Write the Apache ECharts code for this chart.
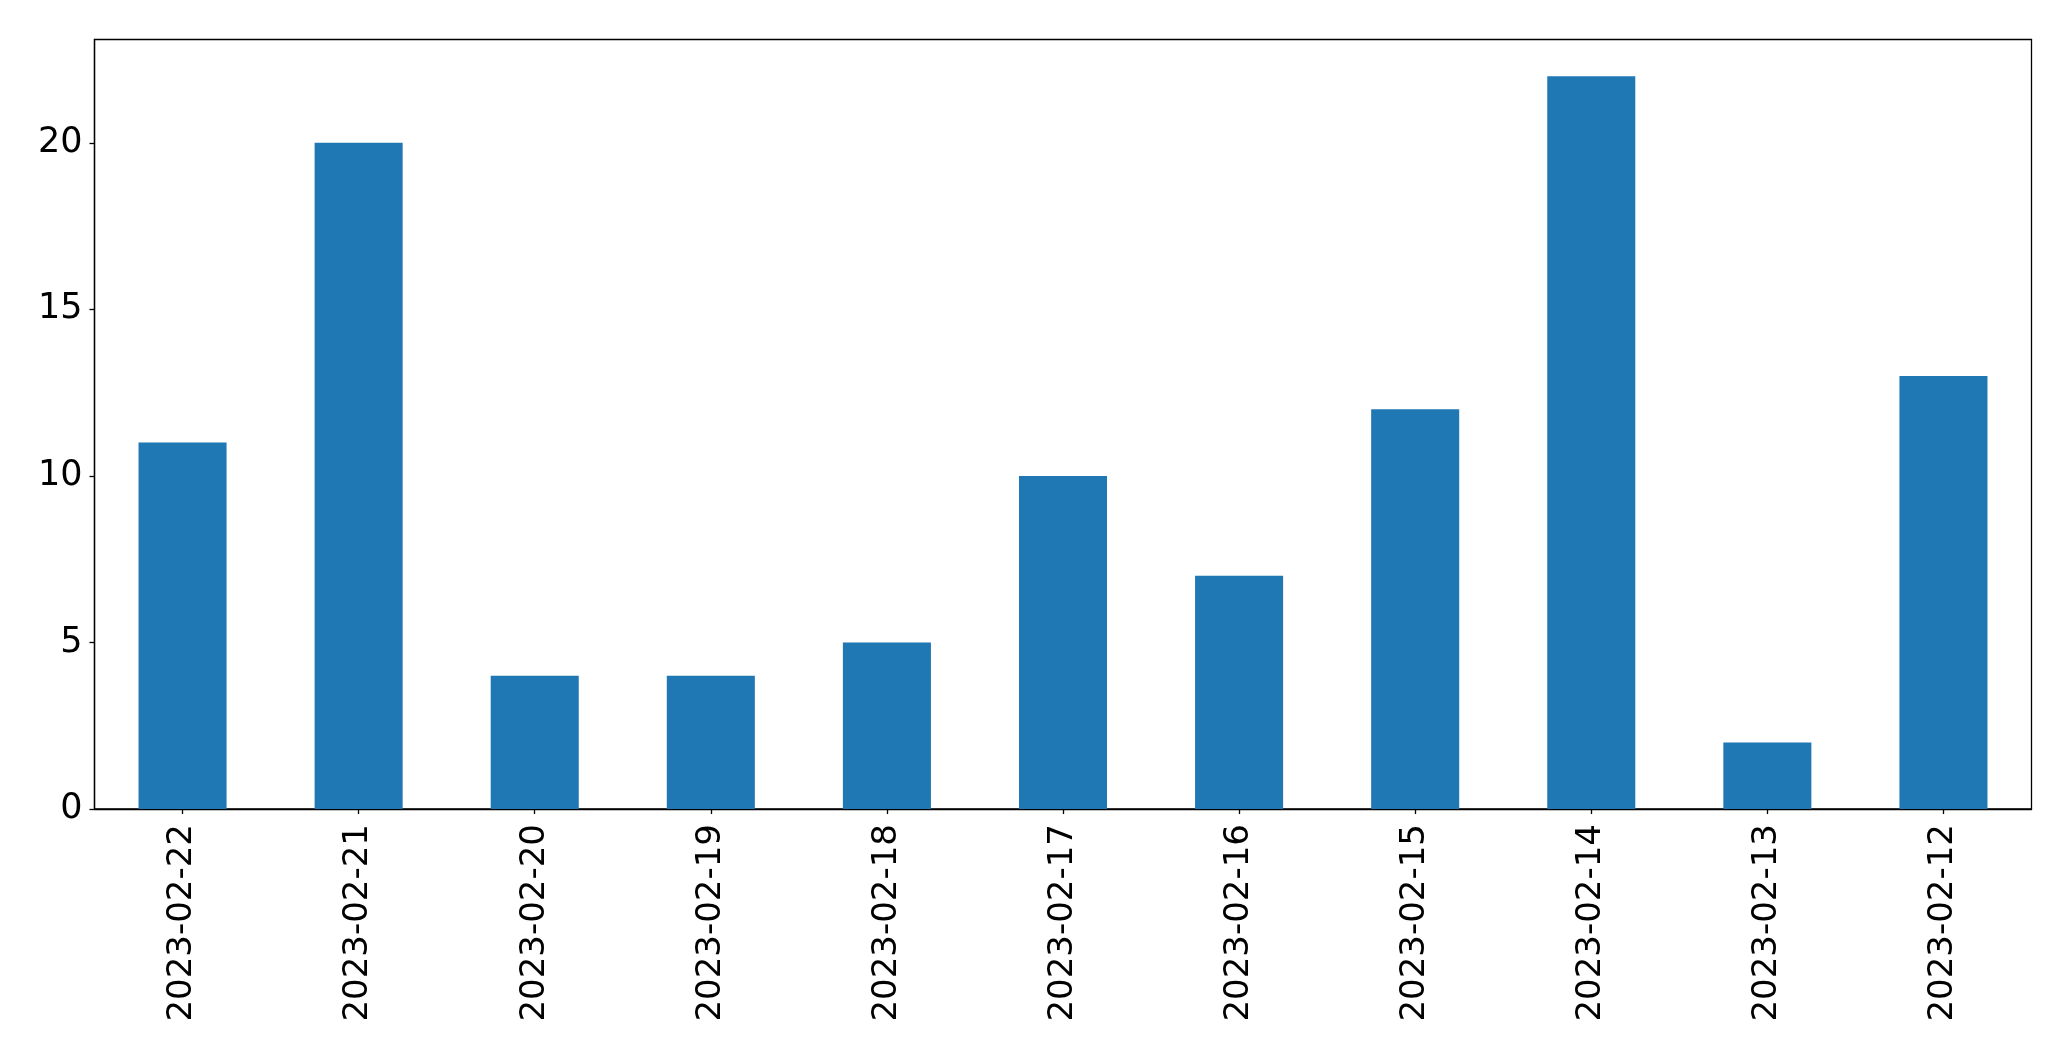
<!DOCTYPE html>
<html>
<head>
<meta charset="utf-8">
<script src="https://cdn.jsdelivr.net/npm/echarts@6/dist/echarts.min.js"></script>
<style>
  html, body { margin: 0; padding: 0; background: #fff; }
  #main { width: 2071px; height: 1061px; }
</style>
</head>
<body>
<div id="main"></div>
<script>
// dates as they appear on the x axis (newest first)
const dates = ['2023-02-22', '2023-02-21', '2023-02-20', '2023-02-19', '2023-02-18', '2023-02-17',
  '2023-02-16', '2023-02-15', '2023-02-14', '2023-02-13', '2023-02-12'];
const counts = [11, 20, 4, 4, 5, 10, 7, 12, 22, 2, 13];
const yTicks = [0, 5, 10, 15, 20];

const chart = echarts.init(document.getElementById('main'));
const font = 'DejaVu Sans';

chart.setOption({
  animation: false,
  grid: {
    left: 94.5, top: 39.5, width: 1937, height: 769.5,
    show: true, borderColor: '#000', borderWidth: 1.3, backgroundColor: 'transparent'
  },
  xAxis: {
    type: 'category',
    data: dates,
    axisLine: { show: true, lineStyle: { color: '#000', width: 1.3 } },
    axisTick: { show: true, alignWithLabel: true, length: 5, lineStyle: { color: '#000', width: 1.3 } },
    axisLabel: { rotate: 90, margin: 15, color: '#000', fontSize: 34, fontFamily: font, interval: 0 },
    splitLine: { show: false }
  },
  yAxis: {
    type: 'value',
    min: 0,
    max: 23.1,
    axisLine: { show: true, lineStyle: { color: '#000', width: 1.3 } },
    axisTick: { show: true, length: 5, customValues: yTicks, lineStyle: { color: '#000', width: 1.3 } },
    axisLabel: { margin: 12, color: '#000', fontSize: 35, fontFamily: font, customValues: yTicks },
    splitLine: { show: false }
  },
  series: [{
    type: 'bar',
    data: counts,
    barWidth: '50%',
    itemStyle: { color: '#1f77b4' }
  }]
});
</script>
</body>
</html>
